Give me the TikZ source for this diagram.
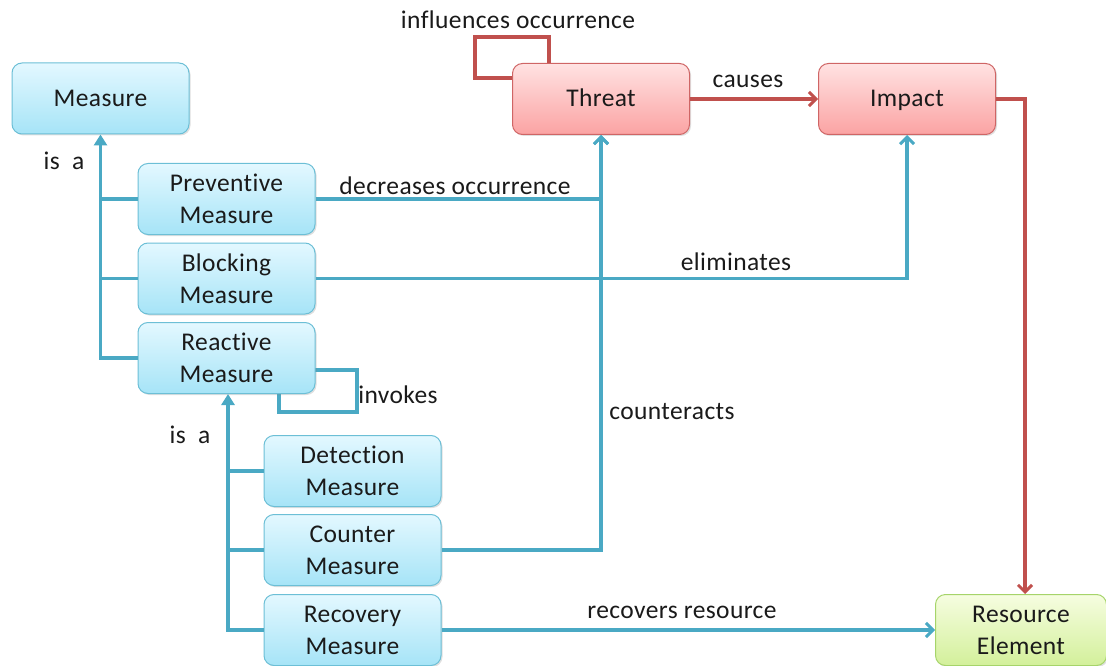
\documentclass[tikz,border=0pt]{standalone}
\usepackage{fontspec}
\setmainfont[Ligatures=NoCommon,LetterSpace=1.5]{Carlito}
\usetikzlibrary{arrows.meta,shadows}
\definecolor{bline}{HTML}{4AA9C4}
\definecolor{rline}{HTML}{C0504D}
\definecolor{bborder}{HTML}{6CBFD6}
\definecolor{btop}{HTML}{E3F8FF}
\definecolor{bbot}{HTML}{A6E4F7}
\definecolor{rborder}{HTML}{CF6565}
\definecolor{rtop}{HTML}{FFE2E2}
\definecolor{rbot}{HTML}{FBA3A3}
\definecolor{gborder}{HTML}{A6D46A}
\definecolor{gtop}{HTML}{F6FDE0}
\definecolor{gbot}{HTML}{D3F09B}
\definecolor{txt}{HTML}{1A1A1A}
\tikzset{
  basebox/.style={rounded corners=10pt, line width=1pt, minimum width=177pt, minimum height=71pt,
    align=center, text=txt, font=\fontsize{25.5}{32}\selectfont, inner sep=0pt,
    drop shadow={shadow xshift=1.5pt, shadow yshift=-1.5pt, opacity=0.25}},
  bbox/.style={basebox, draw=bborder, top color=btop, bottom color=bbot},
  rbox/.style={basebox, draw=rborder, top color=rtop, bottom color=rbot},
  gbox/.style={basebox, draw=gborder, top color=gtop, bottom color=gbot},
  onel/.style={text height=19pt, text depth=3pt},
  bl/.style={draw=bline, line width=3.3pt},
  rd/.style={draw=rline, line width=3.3pt},
  isa/.style={-{Triangle[length=11pt,width=13pt]}},
  barb/.style={-{Straight Barb[length=7pt,width=14pt,line width=3pt]}},
  lbl/.style={text=txt, font=\fontsize{25.5}{28}\selectfont, inner sep=0pt}
}
\begin{document}
\begin{tikzpicture}[x=1pt,y=-1pt]
\useasboundingbox (0,0) rectangle (1106,666);
% self loops (under boxes)
\coordinate (rlA) at (549,37);
\coordinate (rlB) at (475,37);
\coordinate (rlC) at (475,78);
\coordinate (rlD) at (512,78);
\coordinate (ilA) at (357,370);
\coordinate (ilB) at (357,412);
\coordinate (ilC) at (279,412);
\coordinate (ilD) at (279,394);
\draw[rd] (rlD) -- (rlC) -- (rlB) -- (rlA) -- (549,63);
\draw[bl] (315,370) -- (ilA) -- (ilB) -- (ilC) -- (ilD);
% boxes
\node[bbox, onel] (measure) at (100.5,98.5) {Measure};
\node[bbox] (prev) at (226.5,199) {Preventive\\Measure};
\node[bbox] (block) at (226.5,278.5) {Blocking\\Measure};
\node[bbox] (react) at (226.5,358) {Reactive\\Measure};
\node[bbox] (detect) at (352.5,471) {Detection\\Measure};
\node[bbox] (counter) at (352.5,550) {Counter\\Measure};
\node[bbox] (recov) at (352.5,630) {Recovery\\Measure};
\node[rbox, onel] (threat) at (601,99) {Threat};
\node[rbox, onel] (impact) at (907,99) {Impact};
\node[gbox, minimum width=171pt] (res) at (1021,630) {Resource\\Element};
\coordinate (rs) at ([xshift=1.5pt]react.south);
\coordinate (resin) at ([xshift=4pt]res.north);
% is-a hierarchy
\draw[bl, isa] (react.west) -| (measure.south);
\draw[bl] (prev.west) -- (prev.west -| measure.south);
\draw[bl] (block.west) -- (block.west -| measure.south);
\draw[bl, isa] (recov.west) -| (rs);
\draw[bl] (detect.west) -- (detect.west -| rs);
\draw[bl] (counter.west) -- (counter.west -| rs);
% relations
\draw[bl, barb] (prev.east) -| (threat.south);
\draw[bl, barb] (counter.east) -| (threat.south);
\draw[bl, barb] (block.east) -| (impact.south);
\draw[bl, barb] (recov.east) -- (res.west);
\draw[rd, barb] (threat.east) -- (impact.west);
\draw[rd, barb] (impact.east) -| (resin);
% labels
\node[lbl] (l1) at (64,161) {is\ \ a};
\node[lbl] (l2) at (190,435) {is\ \ a};
\node[lbl] (l3) at (455,186) {decreases\ occurrence};
\node[lbl] (l4) at (736,262) {eliminates};
\node[lbl] (l5) at (672,412) {counteracts};
\node[lbl] (l6) at (682,612) {recovers resource};
\node[lbl] (l7) at (748,81) {causes};
\node[lbl] (l8) at (518,20) {influences occurrence};
\node[lbl] (l9) at (398,395) {invokes};
\end{tikzpicture}
\end{document}
